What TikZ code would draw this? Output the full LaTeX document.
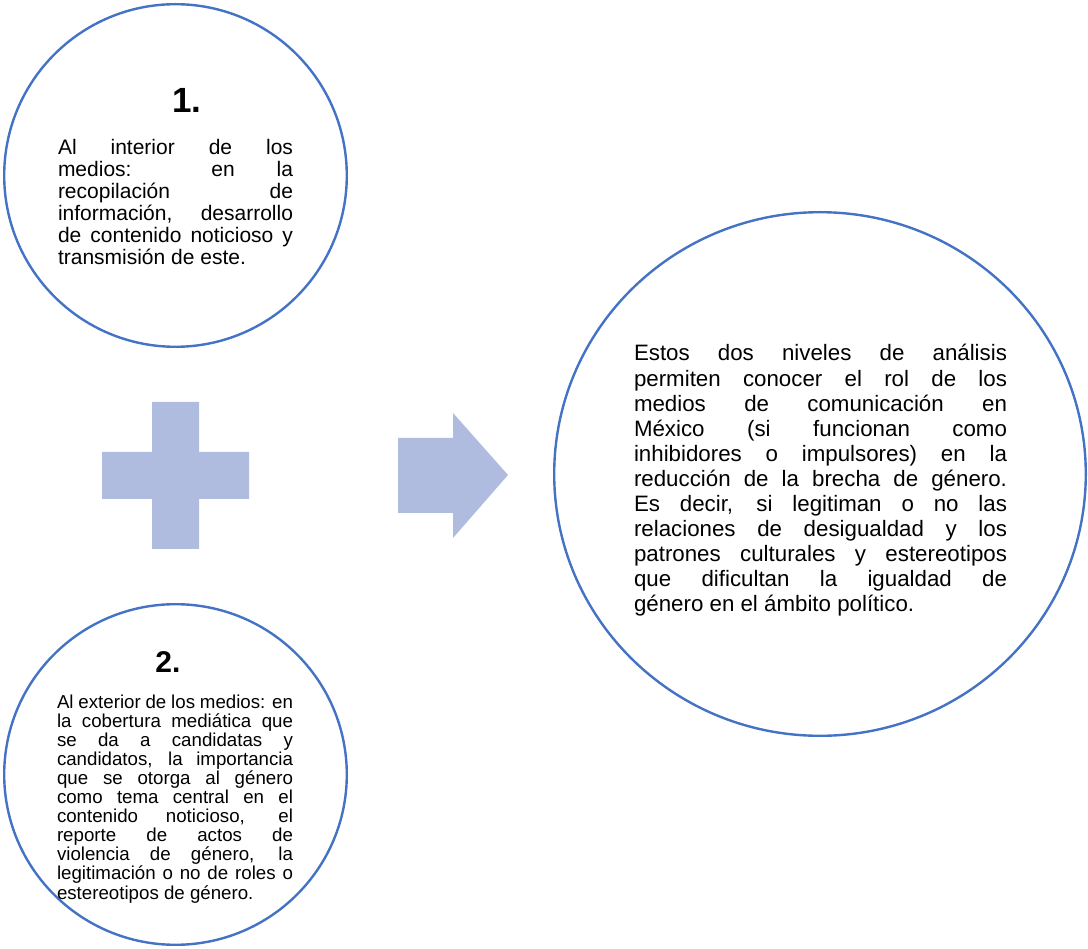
\documentclass[tikz,border=0pt]{standalone}
\usepackage{fontspec}
\setmainfont{Liberation Sans}
\usetikzlibrary{shapes.geometric}
\definecolor{ringblue}{RGB}{68,114,196}
\definecolor{shapefill}{RGB}{176,188,223}
\newcommand\bodytext[4]{\vtop{\hsize=#1\fontsize{#2}{#3}\selectfont\lineskiplimit=-100pt\lineskip=0pt\parindent=0pt #4}}
\newcommand\jline[1]{\hbox to \hsize{#1}}
\newcommand\lline[1]{\hbox{#1}}
\begin{document}
\begin{tikzpicture}[x=1pt,y=-1pt,
  ring/.style={draw=ringblue, line width=2.4pt, ellipse, inner sep=0pt, outer sep=0pt},
  sym/.style={fill=shapefill, draw=none},
  body/.style={anchor=base west, inner sep=0pt, outer sep=0pt},
  num/.style={anchor=base, inner sep=0pt, outer sep=0pt}]
\useasboundingbox (0,0) rectangle (1088,949);
% circles
\node[ring, minimum width=342.6pt, minimum height=342.6pt] (c1) at (175.5,175.5) {};
\node[ring, minimum width=342.6pt, minimum height=340.6pt] (c2) at (175.5,774.5) {};
\node[ring, minimum width=531.6pt, minimum height=523.6pt] (c3) at (820,474) {};
% numbers
\node[num, font=\bfseries\fontsize{35}{35}\selectfont] (n1) at (187,113) {1.};
\node[num, font=\bfseries\fontsize{30}{30}\selectfont] (n2) at (168,672) {2.};
% texts
\node[body] (t1) at (58,155) {\bodytext{235pt}{21}{22}{%
\jline{Al interior de los}
\jline{medios: en la}
\jline{recopilación de}
\jline{información, desarrollo}
\jline{de contenido noticioso y}
\lline{transmisión de este.}}};
\node[body] (t2) at (57,708) {\bodytext{236pt}{18.7}{19.1}{%
\jline{Al exterior de los medios: en}
\jline{la cobertura mediática que}
\jline{se da a candidatas y}
\jline{candidatos, la importancia}
\jline{que se otorga al género}
\jline{como tema central en el}
\jline{contenido noticioso, el}
\jline{reporte de actos de}
\jline{violencia de género, la}
\jline{legitimación o no de roles o}
\lline{estereotipos de género.}}};
\node[body] (t3) at (634,361) {\bodytext{373pt}{22.3}{25.1}{%
\jline{Estos dos niveles de análisis}
\jline{permiten conocer el rol de los}
\jline{medios de comunicación en}
\jline{México (si funcionan como}
\jline{inhibidores o impulsores) en la}
\jline{reducción de la brecha de género.}
\jline{Es decir, si legitiman o no las}
\jline{relaciones de desigualdad y los}
\jline{patrones culturales y estereotipos}
\jline{que dificultan la igualdad de}
\lline{género en el ámbito político.}}};
% plus sign
\path[sym] (152,402) -- (199,402) -- (199,452) -- (249,452) -- (249,499) -- (199,499)
  -- (199,549) -- (152,549) -- (152,499) -- (102,499) -- (102,452) -- (152,452) -- cycle;
% block arrow
\path[sym] (398,438) -- (453,438) -- (453,413) -- (508,475) -- (453,538) -- (453,513)
  -- (398,513) -- cycle;
\end{tikzpicture}
\end{document}
